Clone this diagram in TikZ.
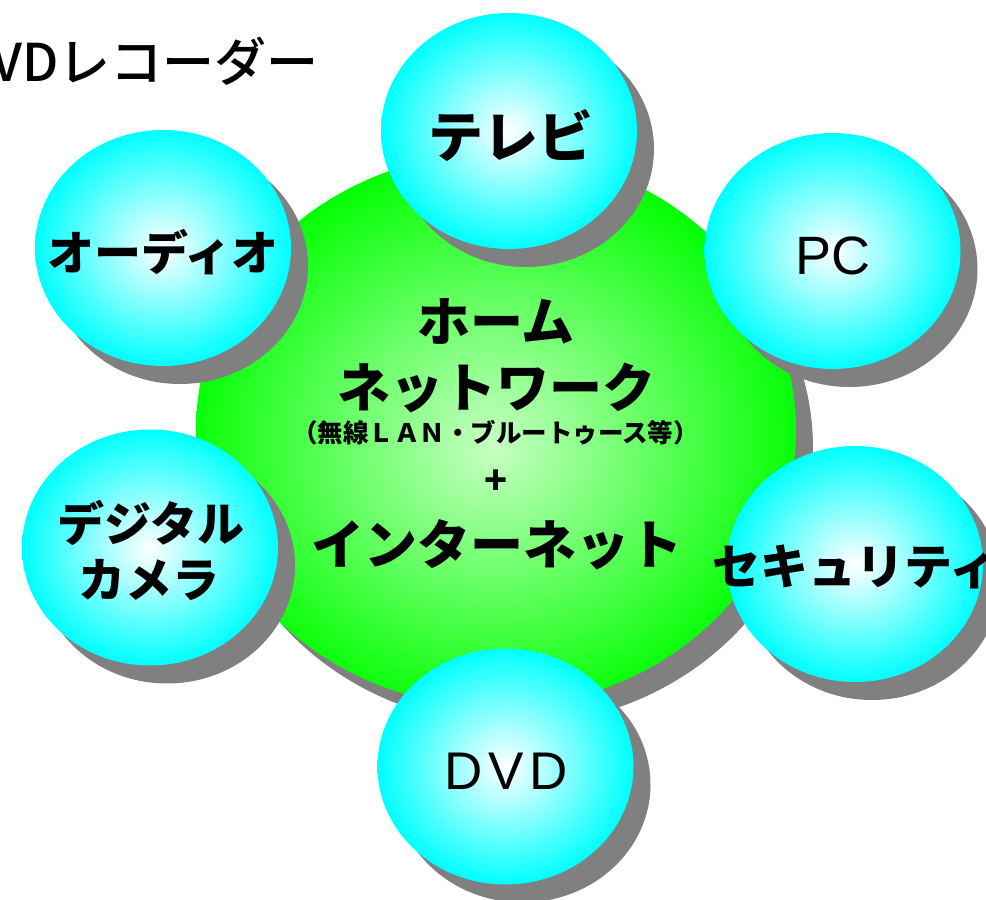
\documentclass[tikz,border=0pt]{standalone}
\usepackage{fontspec}
\setmainfont{Noto Sans CJK JP}
\newfontfamily\jpmed{Noto Sans CJK JP Medium}
\newfontfamily\latfont{Liberation Sans}
\usetikzlibrary{shapes.geometric,shadows}
\definecolor{cyanc}{RGB}{0,255,255}
\definecolor{greenc}{RGB}{0,255,0}
\definecolor{greenlight}{RGB}{200,255,196}
\definecolor{shadowgray}{RGB}{128,128,128}
\pgfdeclareradialshading{cyanball}{\pgfpoint{0bp}{0bp}}{color(0bp)=(white); color(25bp)=(cyanc); color(50bp)=(cyanc)}
\pgfdeclareradialshading{greenball}{\pgfpoint{-0.3bp}{-1.5bp}}{color(0bp)=(greenlight); color(26bp)=(greenc); color(50bp)=(greenc)}
\begin{document}
\begin{tikzpicture}[x=1pt,y=1pt,
  ballshadow/.style={drop shadow={shadow xshift=17pt, shadow yshift=-18pt, fill=shadowgray, opacity=1}},
  ball/.style={ellipse, inner sep=0pt, minimum width=256pt, minimum height=236pt, shade, shading=cyanball, ballshadow},
  hub/.style={ellipse, inner sep=0pt, minimum width=600pt, minimum height=554pt, shade, shading=greenball, ballshadow},
  jp/.style={inner sep=0pt, font=\bfseries\fontsize{#1}{#1}\selectfont},
  lt/.style={inner sep=0pt, font=\latfont\fontsize{#1}{#1}\selectfont}
]
\useasboundingbox (0,0) rectangle (986,900);
\fill[white] (0,0) rectangle (986,900);
% hub and satellites
\node[hub] (hub) at (496,470) {};
\node[ball] (tv) at (509,769) {};
\node[ball] (audio) at (163,652) {};
\node[ball] (pc) at (832.5,649) {};
\node[ball] (cam) at (150,352.5) {};
\node[ball] (sec) at (855,336) {};
\node[ball] (dvd) at (505.5,133.5) {};
% labels
\node[jp=55] (tvt) at (511,764.5) {テレビ};
\node[jp=47] (audiot) at (163,647.5) {オーディオ};
\node[lt=54] (pct) at (832.5,644.5) {PC};
\node[jp=47] (camta) at (151,377) {デジタル};
\node[jp=47] (camtb) at (149,320) {カメラ};
\node[jp=48] (sect) at (855,333) {セキュリティ};
\node[lt=53] (dvdt) at (506,129) {D\kern6pt V\kern6pt D};
\node[jp=53] (hta) at (496,578.5) {ホーム};
\node[jp=53] (htb) at (496,511.5) {ネットワーク};
\node[jp=25.5] (htc) at (495.5,467) {（無線ＬＡＮ・ブルートゥース等）};
\node[jp=38] (htd) at (496,417.5) {+};
\node[jp=53] (hte) at (496.5,355) {インターネット};
\node[inner sep=0pt, anchor=base east, font=\jpmed\fontsize{52}{52}\selectfont] (rec) at (319,818) {DVDレコーダー};
\end{tikzpicture}
\end{document}
